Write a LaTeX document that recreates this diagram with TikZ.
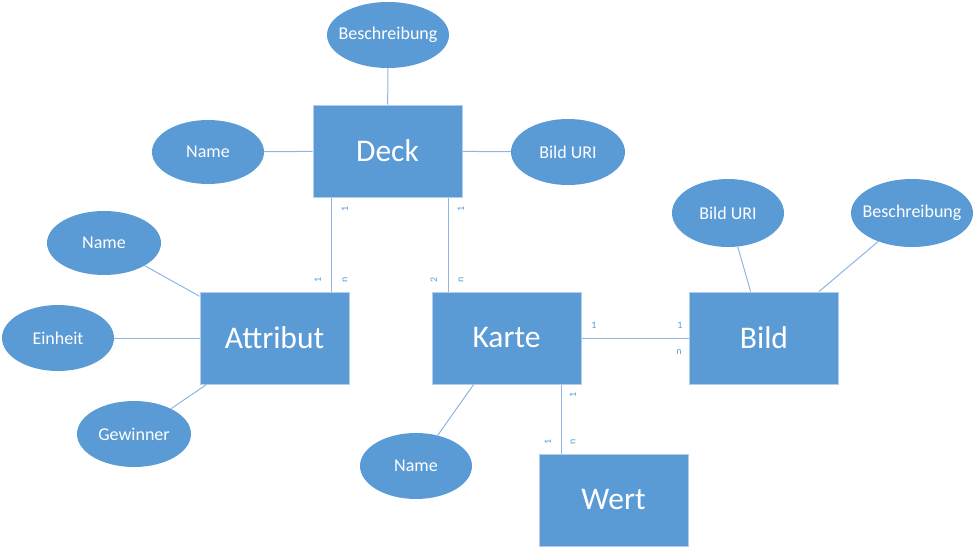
\documentclass[tikz,border=0pt]{standalone}
\usepackage{fontspec}
\setmainfont{Carlito}
\usetikzlibrary{shapes.geometric}
\definecolor{fillblue}{HTML}{5B9BD5}
\definecolor{edgeblue}{HTML}{B4CDEA}
\definecolor{lineblue}{HTML}{8FB6E2}
\newcommand{\zb}[1]{\makebox[0pt]{#1}}
\begin{document}
\begin{tikzpicture}[x=1pt,y=-1pt,
  entity/.style={rectangle,fill=fillblue,draw=edgeblue,line width=1pt,minimum width=149pt,minimum height=92pt,inner sep=0pt,text=white,font=\fontsize{31.5}{31.5}\selectfont},
  attr/.style={ellipse,fill=fillblue,draw=none,inner sep=0pt,text=white,font=\fontsize{18}{18}\selectfont},
  conn/.style={draw=lineblue,line width=1pt},
  card/.style={text=fillblue,font=\fontsize{10}{10}\selectfont,inner sep=0pt},
  vcard/.style={card,rotate=90}]
\useasboundingbox (0,0) rectangle (975,549);
% entities
\node[entity] (deck) at (387.5,151) {Deck};
\node[entity] (attribut) at (274.5,338) {Attribut};
\node[entity] (karte) at (506.5,338) {Karte};
\node[entity] (bild) at (764,338) {Bild};
\node[entity] (wert) at (613.5,500) {Wert};
% attributes
\node[attr,minimum width=122pt,minimum height=66pt] (dbeschr) at (388,35) {\zb{Beschreibung}};
\node[attr,minimum width=112pt,minimum height=64pt] (dname) at (208,152) {\zb{Name}};
\node[attr,minimum width=114pt,minimum height=66pt] (duri) at (568,152) {\zb{Bild URI}};
\node[attr,minimum width=114pt,minimum height=64pt] (aname) at (104,243) {\zb{Name}};
\node[attr,minimum width=112pt,minimum height=66pt] (aeinheit) at (58,338) {\zb{Einheit}};
\node[attr,minimum width=114pt,minimum height=66pt] (agew) at (134,434) {\zb{Gewinner}};
\node[attr,minimum width=112pt,minimum height=66pt] (kname) at (416,466) {\zb{Name}};
\node[attr,minimum width=112pt,minimum height=68pt] (buri) at (728,213) {\zb{Bild URI}};
\node[attr,minimum width=122pt,minimum height=68pt] (bbeschr) at (912,213) {\zb{Beschreibung}};
% helper coordinates
\coordinate (xa) at (331,0);
\coordinate (xk) at (448,0);
\coordinate (xw) at (561,0);
% connectors
\draw[conn] (dbeschr) -- (deck);
\draw[conn] (dname) -- (deck);
\draw[conn] (duri) -- (deck);
\draw[conn] (deck.south -| xa) -- (attribut.north -| xa);
\draw[conn] (deck.south -| xk) -- (karte.north -| xk);
\draw[conn] (karte) -- (bild);
\draw[conn] (karte.south -| xw) -- (wert.north -| xw);
\draw[conn] (aname) -- (attribut);
\draw[conn] (aeinheit) -- (attribut);
\draw[conn] (agew) -- (attribut);
\draw[conn] (kname) -- (karte);
\draw[conn] (buri) -- (bild);
\draw[conn] (bbeschr) -- (bild);
% cardinalities
\node[vcard] (c1) at (345,209) {1};
\node[vcard] (c2) at (318,280) {1};
\node[vcard] (c3) at (345,280) {n};
\node[vcard] (c4) at (461,209) {1};
\node[vcard] (c5) at (434,280) {2};
\node[vcard] (c6) at (461,280) {n};
\node[card] (c7) at (594,325) {1};
\node[card] (c8) at (680,325) {1};
\node[card] (c9) at (679,352) {n};
\node[vcard] (c10) at (573,395) {1};
\node[vcard] (c11) at (548,442) {1};
\node[vcard] (c12) at (573,442) {n};
\end{tikzpicture}
\end{document}
